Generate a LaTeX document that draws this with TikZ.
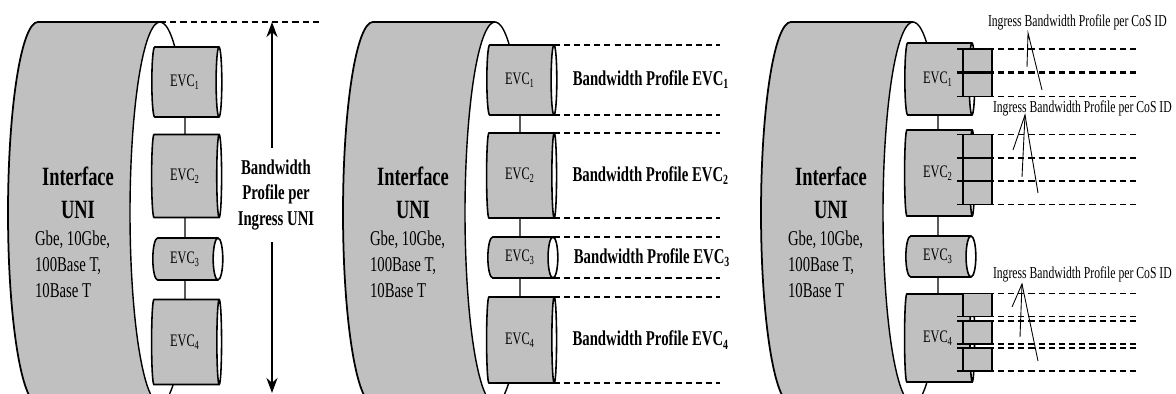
\documentclass[tikz,border=0pt]{standalone}
\usepackage{fontspec}
\setmainfont{Liberation Serif}[FakeStretch=0.7]
\usetikzlibrary{positioning, arrows.meta, shapes.geometric}
\definecolor{cylGray}{HTML}{C0C0C0}

\begin{document}
\begin{tikzpicture}[x=0.02cm, y=-0.02cm,
  every node/.style={inner sep=0pt, outer sep=0pt},
  body/.style={fill=cylGray},
  rim/.style={draw=black, line width=1pt},
  evc/.style={cylinder, draw, line width=0.9pt, cylinder uses custom fill,
              cylinder body fill=cylGray, cylinder end fill=white,
              minimum height=1.4cm, font=\fontsize{10}{12}\selectfont},
  cos/.style={cylinder, draw, line width=0.8pt, cylinder uses custom fill,
              cylinder body fill=cylGray, cylinder end fill=white,
              minimum height=0.58cm, minimum width=0.46cm, aspect=0.5},
  link/.style={line width=0.8pt},
  dashline/.style={dash pattern=on 3.5pt off 2.3pt, line width=0.8pt},
  arr/.style={-{Stealth[length=3mm, width=2.2mm]}, line width=1.6pt},
  pointer/.style={line width=0.5pt},
  unititle/.style={font=\fontsize{15}{18.5}\selectfont\bfseries, align=center},
  unispec/.style={font=\fontsize{12}{14.7}\selectfont, align=left, anchor=north west},
  bwlabel/.style={font=\fontsize{12}{14.5}\selectfont\bfseries},
  coslabel/.style={font=\fontsize{9.5}{11}\selectfont, anchor=west}
]
\useasboundingbox (0,0) rectangle (1176,394);
\clip (0,0) rectangle (1176,394);

% interface cylinders
\foreach \ox/\p in {0/A, 335/B, 753/C}{
  \fill[body] (38+\ox,22) -- (160+\ox,22) -- (160+\ox,404) -- (38+\ox,404)
    arc[start angle=270, end angle=90, x radius=0.6cm, y radius=3.82cm] -- cycle;
  \draw[rim] (160+\ox,22) -- (38+\ox,22)
    arc[start angle=90, end angle=270, x radius=0.6cm, y radius=3.82cm] -- (160+\ox,404);
  \fill[white] (160+\ox,213) ellipse[x radius=0.6cm, y radius=3.82cm];
  \draw[line width=0.8pt] (160+\ox,213) ++(60:0.6cm and 3.82cm)
    arc[start angle=60, end angle=300, x radius=0.6cm, y radius=3.82cm];
  \node[unititle] (uni\p) at (78+\ox,193) {Interface\\UNI};
  \node[unispec] (spec\p) at (35+\ox,231) {Gbe, 10Gbe,\\100Base T,\\10Base T};
}

% left: one profile for the whole UNI
\node[evc, minimum width=1.4cm, aspect=0.4] (evcA1) at (185,82) {EVC\textsubscript{1}};
\node[evc, minimum width=1.66cm, aspect=0.34] (evcA2) at (185,176) {EVC\textsubscript{2}};
\node[evc, minimum width=0.84cm, aspect=0.67] (evcA3) at (185,259) {EVC\textsubscript{3}};
\node[evc, minimum width=1.7cm, aspect=0.33] (evcA4) at (185,342) {EVC\textsubscript{4}};
\draw[link] (evcA1) -- (evcA2);
\draw[link] (evcA2) -- (evcA3);
\draw[link] (evcA3) -- (evcA4);

\coordinate (topA) at (160,22);
\coordinate (dashA) at (320,22);
\coordinate (bwtop) at (272,22);
\coordinate (bwbot) at (272,393);
\draw[dashline] (topA) -- (dashA);
\node[bwlabel, align=center, inner ysep=0.24cm] (bwA) at (276,195)
  {Bandwidth\\Profile per\\Ingress UNI};
\draw[arr] (bwA.north -| bwtop) -- (bwtop);
\draw[arr] (bwA.south -| bwbot) -- (bwbot);

% middle: one profile per EVC
\node[evc, minimum width=1.4cm, aspect=0.4] (evcB1) at (520,80) {EVC\textsubscript{1}};
\node[evc, minimum width=1.7cm, aspect=0.33] (evcB2) at (520,175.5) {EVC\textsubscript{2}};
\node[evc, minimum width=0.82cm, aspect=0.68] (evcB3) at (520,257.5) {EVC\textsubscript{3}};
\node[evc, minimum width=1.72cm, aspect=0.33] (evcB4) at (520,340) {EVC\textsubscript{4}};
\draw[link] (evcB1) -- (evcB2);
\draw[link] (evcB2) -- (evcB3);
\draw[link] (evcB3) -- (evcB4);

\coordinate (endB) at (720,0);
\foreach \i in {1,...,4}{
  \draw[dashline] ([xshift=0.26cm]evcB\i.north) -- (evcB\i.north -| endB);
  \draw[dashline] ([xshift=0.26cm]evcB\i.south) -- (evcB\i.south -| endB);
  \node[bwlabel, right=0.32cm of evcB\i] (bwB\i) {Bandwidth Profile EVC\textsubscript{\i}};
}

% right: profiles per CoS ID
\node[evc, minimum width=1.44cm, aspect=0.4] (evcC1) at (938,79) {EVC\textsubscript{1}};
\node[evc, minimum width=1.72cm, aspect=0.33] (evcC2) at (938,173) {EVC\textsubscript{2}};
\node[evc, minimum width=0.82cm, aspect=0.68] (evcC3) at (938,256.5) {EVC\textsubscript{3}};
\node[evc, minimum width=1.76cm, aspect=0.32] (evcC4) at (938,338) {EVC\textsubscript{4}};
\draw[link] (evcC1) -- (evcC2);
\draw[link] (evcC2) -- (evcC3);
\draw[link] (evcC3) -- (evcC4);

\node[cos] (cos11) at (977,60.5) {};
\node[cos] (cos12) at (977,85) {};
\node[cos] (cos21) at (977,146) {};
\node[cos] (cos22) at (977,169.5) {};
\node[cos] (cos23) at (977,193) {};
\node[cos] (cos41) at (977,305) {};
\node[cos] (cos42) at (977,332.5) {};
\node[cos] (cos43) at (977,359.5) {};

\coordinate (endC) at (1140,0);
\foreach \c in {11,12,21,22,23,41,42,43}{
  \draw[dashline] ([xshift=-0.4cm]cos\c.north) -- (cos\c.north -| endC);
  \draw[dashline] ([xshift=-0.4cm]cos\c.south) -- (cos\c.south -| endC);
}

\node[coslabel] (cosA) at (988,22) {Ingress Bandwidth Profile per CoS ID};
\node[coslabel] (cosB) at (993,108) {Ingress Bandwidth Profile per CoS ID};
\node[coslabel] (cosC) at (993,274) {Ingress Bandwidth Profile per CoS ID};

\coordinate (pA) at (1028,33);
\coordinate (pA1) at (1027,67);
\coordinate (pA2) at (1042,90);
\coordinate (pB) at (1025,115);
\coordinate (pB1) at (1013,150);
\coordinate (pB2) at (1022,177);
\coordinate (pB3) at (1038,193);
\coordinate (pC) at (1022,284);
\coordinate (pC1) at (1012,307);
\coordinate (pC2) at (1020,337);
\coordinate (pC3) at (1038,361);
\draw[pointer] (pA1) -- (pA) -- (pA2);
\draw[pointer] (pB1) -- (pB) -- (pB3);
\draw[pointer] (pB) -- (pB2);
\draw[pointer] (pC1) -- (pC) -- (pC3);
\draw[pointer] (pC) -- (pC2);
\end{tikzpicture}
\end{document}
